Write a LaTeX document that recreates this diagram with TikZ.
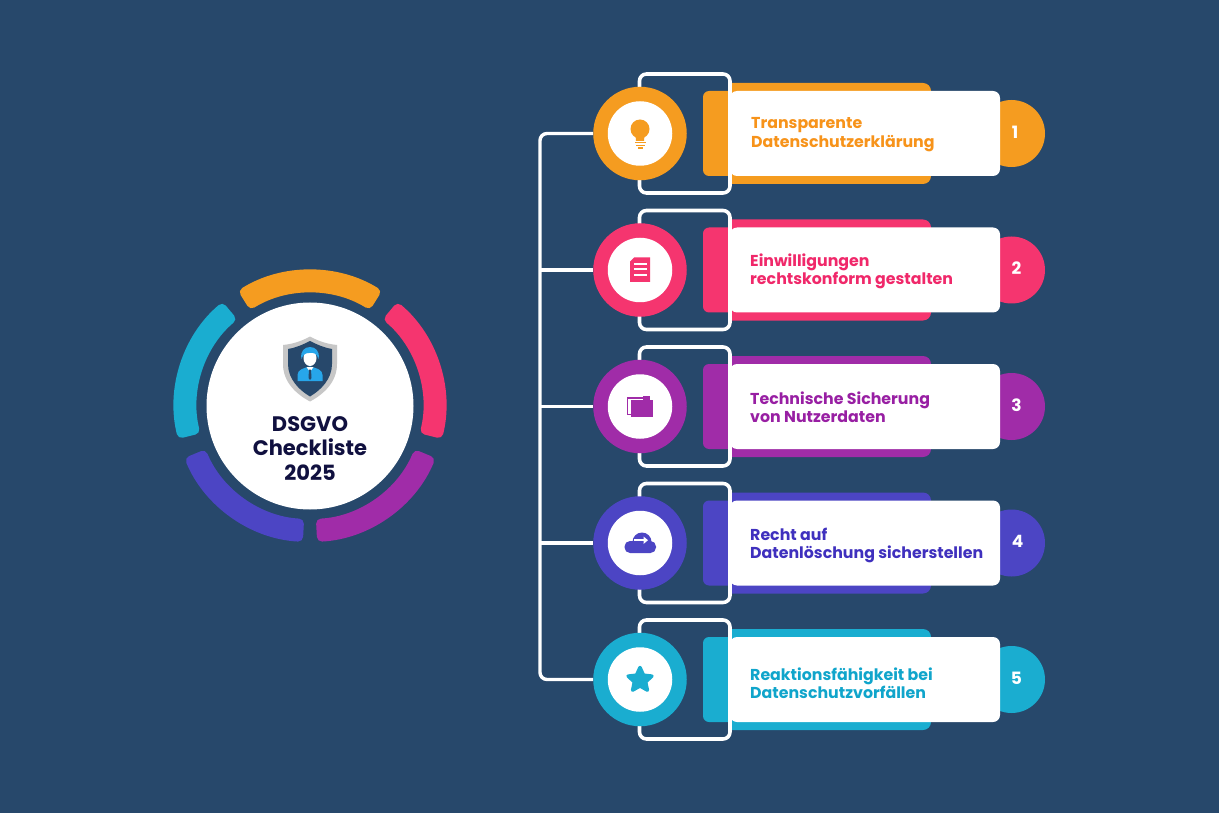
\documentclass[tikz,border=0pt]{standalone}
\usepackage{fontspec}
\setmainfont{Poppins}
\usetikzlibrary{shapes.geometric}
\definecolor{bgblue}{HTML}{27486B}
\definecolor{cOrange}{HTML}{F59C20}
\definecolor{cPink}{HTML}{F5356F}
\definecolor{cPurple}{HTML}{A02CA8}
\definecolor{cBlue}{HTML}{4C45C4}
\definecolor{cCyan}{HTML}{1AADD0}
\definecolor{tOrange}{HTML}{F7931A}
\definecolor{tPink}{HTML}{F0286A}
\definecolor{tPurple}{HTML}{981FA3}
\definecolor{tBlue}{HTML}{3F30BE}
\definecolor{tCyan}{HTML}{10A5CB}
\definecolor{cInk}{HTML}{10103F}
\definecolor{cPerson}{HTML}{27A6EA}
\tikzset{
	wire/.style={draw=white,line width=3.4pt},
	bracket/.style={draw=white,line width=3.6pt,rounded corners=7pt},
	ringnode/.style={circle,minimum size=93.5pt,inner sep=0pt},
	corenode/.style={circle,fill=white,minimum size=64.5pt,inner sep=0pt},
	card/.style={rectangle,fill=white,minimum width=270pt,minimum height=85pt,rounded corners=7pt,inner sep=0pt},
	badge/.style={circle,minimum size=67pt,inner sep=0pt},
	numtext/.style={text=white,font=\fontsize{17}{20}\selectfont\bfseries,inner sep=0pt},
	rowtext/.style={anchor=west,align=left,inner sep=0pt,font=\fontsize{15.8}{18.4}\selectfont\bfseries},
	segment/.style={rounded corners=5pt},
}
\begin{document}
\begin{tikzpicture}[x=1pt,y=-1pt]
	\fill[bgblue] (0,0) rectangle (1219,813);
	% ring on the left
	\begin{scope}[shift={(310,406)},y=1pt]
		\fill[cOrange,segment] (58:113) arc[start angle=58,end angle=122,radius=113] -- (122:136) arc[start angle=122,end angle=58,radius=136] -- cycle;
		\fill[cPink,segment] (50:113) arc[start angle=50,end angle=-14,radius=113] -- (-14:136) arc[start angle=-14,end angle=50,radius=136] -- cycle;
		\fill[cPurple,segment] (-22.5:113) arc[start angle=-22.5,end angle=-87,radius=113] -- (-87:136) arc[start angle=-87,end angle=-22.5,radius=136] -- cycle;
		\fill[cBlue,segment] (-93:113) arc[start angle=-93,end angle=-157.5,radius=113] -- (-157.5:136) arc[start angle=-157.5,end angle=-93,radius=136] -- cycle;
		\fill[cCyan,segment] (194:113) arc[start angle=194,end angle=130,radius=113] -- (130:136) arc[start angle=130,end angle=194,radius=136] -- cycle;
	\end{scope}
	\node[circle,fill=white,minimum size=207pt,inner sep=0pt] (hub) at (310,406) {};
	% shield
	\fill[black!22] (310,336.5) .. controls (300,342) and (292,344) .. (283,345) -- (283,364) .. controls (283,382) and (296,394) .. (310,401.5) .. controls (324,394) and (337,382) .. (337,364) -- (337,345) .. controls (328,344) and (320,342) .. (310,336.5) -- cycle;
	\fill[bgblue] (310,341) .. controls (302,345) and (295,348) .. (288,349) -- (288,364) .. controls (288,379) and (299,390) .. (310,396.5) .. controls (321,390) and (332,379) .. (332,364) -- (332,349) .. controls (325,348) and (318,345) .. (310,341) -- cycle;
	\fill[cPerson] (297.5,381) -- (297.5,375) .. controls (297.5,370) and (303,368) .. (310,366.5) .. controls (317,368) and (322.5,370) .. (322.5,375) -- (322.5,381) -- cycle;
	\fill[white] (306.5,367) -- (310,372) -- (313.5,367) -- cycle;
	\fill[bgblue] (309,369.5) -- (311,369.5) -- (311.5,378) -- (310,380) -- (308.5,378) -- cycle;
	\fill[white] (310,358) ellipse[x radius=6.5,y radius=8];
	\fill[cPerson] (301.5,359) .. controls (298,343) and (322,343) .. (318.5,359) .. controls (317,354) and (314,352) .. (309,353) .. controls (305,353) and (303,355) .. (301.5,359) -- cycle;
	\node[text=cInk,align=center,inner sep=0pt,font=\fontsize{21}{24.5}\selectfont\bfseries] (title) at (310,448.5) {DSGVO\\Checkliste\\2025};
	% row 1
	\fill[cOrange,rounded corners=8pt] (730,83) -- (931,83) -- (931,184) -- (730,184);
	\fill[cOrange,rounded corners=6pt] (732,91) -- (703,91) -- (703,176) -- (732,176);
	\draw[bracket] (639.5,74) rectangle (730,193);
	\node[badge,fill=cOrange] (badge1) at (1011.5,133.5) {};
	\node[card] (card1) at (865,133.5) {};
	\node[ringnode,fill=cOrange] (ring1) at (640,133.5) {};
	\node[corenode] (core1) at (640,133.5) {};
	\node[rowtext,text=tOrange] (text1) at (751,134.5) {Transparente\\Datenschutzerklärung};
	\node[numtext] (num1) at (1015,132) {1};
	\fill[cOrange] (640,129) circle[radius=9.5];
	\fill[cOrange] (635.5,135) -- (644.5,135) -- (644,141) -- (636,141) -- cycle;
	\fill[cOrange] (634.5,142) rectangle (645.5,143.5);
	\fill[cOrange] (635.5,145) rectangle (644.5,146.5);
	\fill[cOrange] (637.5,147.5) rectangle (642.5,149);
	% row 2
	\fill[cPink,rounded corners=8pt] (730,219.5) -- (931,219.5) -- (931,320.5) -- (730,320.5);
	\fill[cPink,rounded corners=6pt] (732,227.5) -- (703,227.5) -- (703,312.5) -- (732,312.5);
	\draw[bracket] (639.5,210.5) rectangle (730,329.5);
	\node[badge,fill=cPink] (badge2) at (1011.5,270) {};
	\node[card] (card2) at (865,270) {};
	\node[ringnode,fill=cPink] (ring2) at (640,270) {};
	\node[corenode] (core2) at (640,270) {};
	\node[rowtext,text=tPink] (text2) at (750,271.5) {Einwilligungen\\rechtskonform gestalten};
	\node[numtext] (num2) at (1016.5,268.5) {2};
	\fill[cPink] (634,257.5) -- (650,257.5) -- (650,282) -- (630,282) -- (630,261.5) -- cycle;
	\fill[white] (634,263) rectangle (646.5,265);
	\fill[white] (634,268.5) rectangle (646.5,270.5);
	\fill[white] (634,274) rectangle (646.5,276);
	% row 3
	\fill[cPurple,rounded corners=8pt] (730,356) -- (931,356) -- (931,457) -- (730,457);
	\fill[cPurple,rounded corners=6pt] (732,364) -- (703,364) -- (703,449) -- (732,449);
	\draw[bracket] (639.5,347) rectangle (730,466);
	\node[badge,fill=cPurple] (badge3) at (1011.5,406.5) {};
	\node[card] (card3) at (865,406.5) {};
	\node[ringnode,fill=cPurple] (ring3) at (640,406.5) {};
	\node[corenode] (core3) at (640,406.5) {};
	\node[rowtext,text=tPurple] (text3) at (750,407.5) {Technische Sicherung\\von Nutzerdaten};
	\node[numtext] (num3) at (1016.5,405) {3};
	\fill[cPurple] (630.5,399.5) rectangle (652.5,417);
	\fill[cPurple] (643,396) rectangle (649.5,399.5);
	\draw[cPurple,line width=1.2pt] (643,398) -- (627.8,398) -- (627.8,414.5) -- (630.5,414.5);
	% row 4
	\fill[cBlue,rounded corners=8pt] (730,492.5) -- (931,492.5) -- (931,593.5) -- (730,593.5);
	\fill[cBlue,rounded corners=6pt] (732,500.5) -- (703,500.5) -- (703,585.5) -- (732,585.5);
	\draw[bracket] (639.5,483.5) rectangle (730,602.5);
	\node[badge,fill=cBlue] (badge4) at (1011.5,543) {};
	\node[card] (card4) at (865,543) {};
	\node[ringnode,fill=cBlue] (ring4) at (640,543) {};
	\node[corenode] (core4) at (640,543) {};
	\node[rowtext,text=tBlue] (text4) at (750,545.5) {Recht auf\\Datenlöschung sicherstellen};
	\node[numtext] (num4) at (1017.5,541.5) {4};
	\fill[cBlue,rounded corners=5.5pt] (624.5,541) rectangle (656,553);
	\fill[cBlue] (642,542) circle[radius=9.5];
	\fill[white] (634,539.3) rectangle (644,541.1);
	\fill[white] (643.5,536.5) -- (648,540.2) -- (643.5,544) -- cycle;
	% row 5
	\fill[cCyan,rounded corners=8pt] (730,629) -- (931,629) -- (931,730) -- (730,730);
	\fill[cCyan,rounded corners=6pt] (732,637) -- (703,637) -- (703,722) -- (732,722);
	\draw[bracket] (639.5,620) rectangle (730,739);
	\node[badge,fill=cCyan] (badge5) at (1011.5,679.5) {};
	\node[card] (card5) at (865,679.5) {};
	\node[ringnode,fill=cCyan] (ring5) at (640,679.5) {};
	\node[corenode] (core5) at (640,679.5) {};
	\node[rowtext,text=tCyan] (text5) at (750,683) {Reaktionsfähigkeit bei\\Datenschutzvorfällen};
	\node[numtext] (num5) at (1016.5,678) {5};
	\node[star,star points=5,star point ratio=2.1,fill=cCyan,draw=cCyan,line width=3.5pt,line join=round,minimum size=25pt,inner sep=0pt] (icon5) at (640,680) {};
	% connectors
	\coordinate (spine1) at (540,133.5);
	\coordinate (spine2) at (540,270);
	\coordinate (spine3) at (540,406.5);
	\coordinate (spine4) at (540,543);
	\coordinate (spine5) at (540,679.5);
	\draw[wire,rounded corners=7pt] (ring1.west) -- (spine1) -- (spine5) -- (ring5.west);
	\draw[wire] (spine2) -- (ring2.west);
	\draw[wire] (spine3) -- (ring3.west);
	\draw[wire] (spine4) -- (ring4.west);
\end{tikzpicture}
\end{document}
